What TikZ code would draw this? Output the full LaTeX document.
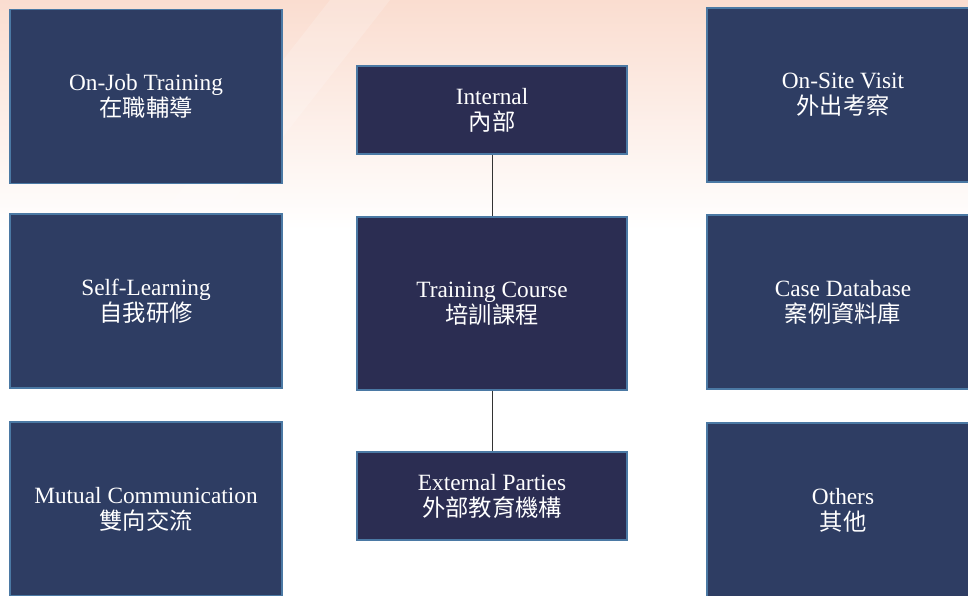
\documentclass[tikz,border=0pt]{standalone}
\usepackage{fontspec}
\usepackage{xcolor}
\setmainfont{Liberation Serif}
\newfontfamily\cjk{Noto Sans CJK TC}
\definecolor{sidefill}{HTML}{2E3D63}
\definecolor{midfill}{HTML}{2B2D52}
\definecolor{edgeblue}{HTML}{4B79A4}
\definecolor{peach}{HTML}{FADDD0}

\begin{document}
\begin{tikzpicture}[x=1pt, y=-1pt,
    box/.style={draw=edgeblue, line width=1.8pt, text=white, align=center,
        inner sep=0pt, font=\fontsize{23.3}{26}\selectfont},
    sidebox/.style={box, fill=sidefill, minimum width=272pt, minimum height=174pt},
    midbox/.style={box, fill=midfill, minimum width=270pt},
    link/.style={draw=black!80, line width=0.9pt}]
            %% 一些宏定義
            \newcommand{\twoline}[2]{#1\\{\cjk #2}}
            \useasboundingbox (0, 0) rectangle (968, 596);
            \clip (0, 0) rectangle (968, 596);
            %% 背景
            \fill[white] (0, 0) rectangle (968, 596);
            \shade[top color=peach, bottom color=white] (0, 0) rectangle (968, 230);
            \fill[white, opacity=0.18] (150, 230) -- (330, 0) -- (390, 0) -- (210, 230) -- cycle;

            %% 左列
            \node[sidebox] (ojt) at (146, 96.5) {\twoline{On-Job Training}{在職輔導}};
            \node[sidebox] (self) at (146, 301) {\twoline{Self-Learning}{自我研修}};
            \node[sidebox] (mutual) at (146, 509) {\twoline{Mutual Communication}{雙向交流}};

            %% 中列
            \node[midbox, minimum height=88pt] (internal) at (492, 110) {\twoline{Internal}{內部}};
            \node[midbox, minimum height=173pt] (course) at (492, 303.5) {\twoline{Training Course}{培訓課程}};
            \node[midbox, minimum height=88pt] (external) at (492, 496) {\twoline{External Parties}{外部教育機構}};

            %% 右列
            \node[sidebox] (visit) at (843, 95) {\twoline{On-Site Visit}{外出考察}};
            \node[sidebox] (cases) at (843, 302) {\twoline{Case Database}{案例資料庫}};
            \node[sidebox] (others) at (843, 510) {\twoline{Others}{其他}};

            %% 連線
            \draw[link] (internal.south) -- (course.north);
            \draw[link] (course.south) -- (external.north);
        \end{tikzpicture}
\end{document}
